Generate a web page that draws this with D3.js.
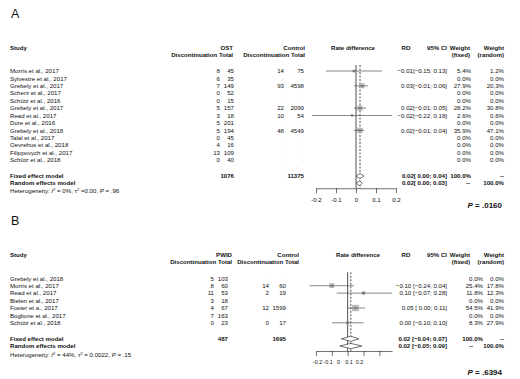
<!DOCTYPE html>
<html>
<head>
<meta charset="utf-8">
<script src="https://cdnjs.cloudflare.com/ajax/libs/d3/7.8.5/d3.min.js"></script>
<style>
body { margin: 0; background: #fff; }
svg { display: block; font-family: "Liberation Sans", Arial, sans-serif; }
</style>
</head>
<body>
<div id="chart"></div>
<script>
// ---- panel A : OST ----
var studiesA = ["Morris et al., 2017", "Sylvestre et al., 2017", "Grebely et al., 2017", "Scherz et al., 2017",
    "Schütz et al., 2016", "Grebely et al., 2017", "Read et al., 2017", "Dore et al., 2016",
    "Grebely et al., 2018", "Talal et al., 2017", "Oevrehus et al., 2018", "Filippovych et al., 2017", "Schütz et al., 2018"];
var eventsA = [8, 6, 7, 0, 0, 5, 3, 5, 5, 0, 4, 13, 0];
var totalA = [45, 35, 149, 52, 15, 157, 18, 201, 194, 45, 16, 109, 40];
var ctrlEventsA = [14, null, 93, null, null, 22, 10, null, 48, null, null, null, null];
var ctrlTotalA = [75, null, 4598, null, null, 2099, 54, null, 4549, null, null, null, null];
var rdA = [-0.01, null, 0.03, null, null, 0.02, -0.02, null, 0.02, null, null, null, null];
var lowA = [-0.15, null, -0.01, null, null, -0.01, -0.22, null, -0.01, null, null, null, null];
var highA = [0.13, null, 0.06, null, null, 0.05, 0.18, null, 0.04, null, null, null, null];
var wFixedA = [5.4, 0, 27.9, 0, 0, 28.2, 2.6, 0, 35.9, 0, 0, 0, 0];
var wRandomA = [1.2, 0, 20.3, 0, 0, 30.8, 0.6, 0, 47.1, 0, 0, 0, 0];
var pooledA = [0.02, 0.02];      // fixed, random
var pooledLowA = [0.00, 0.00];
var pooledHighA = [0.04, 0.03];
var sumTotalsA = [1076, 11375];
var hetA = ["0%", "=0.00", ".96"];
var pA = ".0160";

// ---- panel B : PWID ----
var studiesB = ["Grebely et al., 2018", "Morris et al., 2017", "Read et al., 2017", "Bielen et al., 2017",
    "Foster et a., 2017", "Boglione et al., 2017", "Schütz et al., 2018"];
var eventsB = [5, 8, 11, 3, 4, 7, 0];
var totalB = [103, 60, 53, 18, 67, 163, 23];
var ctrlEventsB = [null, 14, 2, null, 12, null, 0];
var ctrlTotalB = [null, 60, 19, null, 1599, null, 17];
var rdB = [null, -0.10, 0.10, null, 0.05, null, 0.00];
var lowB = [null, -0.24, -0.07, null, 0.00, null, -0.10];
var highB = [null, 0.04, 0.28, null, 0.11, null, 0.10];
var wFixedB = [0, 25.4, 11.8, 0, 54.5, 0, 8.3];
var wRandomB = [0, 17.8, 12.3, 0, 41.9, 0, 27.9];
var pooledB = [0.02, 0.02];
var pooledLowB = [-0.04, -0.05];
var pooledHighB = [0.07, 0.09];
var sumTotalsB = [487, 1695];
var hetB = ["44%", "= 0.0022", ".15"];
var pB = ".6394";

var tickValues = [-0.2, -0.1, 0, 0.1, 0.2];
var tickLabels = ["-0.2", "-0.1", "0", "0.1", "0.2"];

var W = 520, H = 379, fs = 6.1;
var f2 = d3.format(".2f");

var svg = d3.select("#chart").append("svg")
    .attr("width", W)
    .attr("height", H);

function txt(g, x, y, s, anchor, bold, size) {
    return g.append("text")
        .attr("x", x).attr("y", y)
        .attr("text-anchor", anchor || "start")
        .attr("font-size", size || fs)
        .attr("font-weight", bold ? "bold" : "normal")
        .attr("fill", "#111")
        .text(s);
}

function ciText(est, lo, hi, sep) {
    var l = lo < 0 ? f2(lo) : " " + f2(lo);
    return f2(est) + sep + "[" + l + "; " + f2(hi) + "]";
}

function drawPanel(p) {
    var g = svg.append("g");
    var n = p.studies.length;

    var y = d3.scaleLinear().domain([0, n - 1]).range([p.y0, p.y0 + (n - 1) * 7.42]);
    var x = d3.scaleLinear().domain(p.xDomain).range(p.xRange);
    var yFixed = y(n - 1) + 16, yRandom = yFixed + 7.2;

    txt(g, 11, p.letterY, p.letter, "start", false, 12.5);

    // headers
    var hy = p.y0 - 21;
    txt(g, 10, hy, "Study", "start", true);
    txt(g, p.hTot, hy, p.group, "end", true);
    txt(g, p.hTot, hy + 7, "Discontinuation Total", "end", true);
    txt(g, p.hcTot, hy, "Control", "end", true);
    txt(g, p.hcTot, hy + 7, "Discontinuation Total", "end", true);
    txt(g, p.rdHead, hy, "Rate difference", "middle", true);
    txt(g, 406, hy, "RD", "middle", true);
    txt(g, 447, hy, "95% CI", "end", true);
    txt(g, 470, hy, "Weight", "end", true);
    txt(g, 470, hy + 7, "(fixed)", "end", true);
    txt(g, 504, hy, "Weight", "end", true);
    txt(g, 504, hy + 7, "(random)", "end", true);

    // study rows
    p.studies.forEach(function(s, i) {
        var yy = y(i) + 2.2;
        txt(g, 10, yy, s);
        txt(g, p.cEv, yy, p.events[i], "end");
        txt(g, p.cTot, yy, p.total[i], "end");
        if (p.ctrlEv[i] === null) {
            txt(g, p.ccEv, yy - 1, ".", "end").attr("fill", "#aaa");
            txt(g, p.ccTot, yy - 1, ".", "end").attr("fill", "#aaa");
        } else {
            txt(g, p.ccEv, yy, p.ctrlEv[i], "end");
            txt(g, p.ccTot, yy, p.ctrlTot[i], "end");
        }
        if (p.rd[i] !== null) {
            txt(g, 447, yy, ciText(p.rd[i], p.low[i], p.high[i], p.sep), "end");
        }
        txt(g, p.wfCol, yy, p.wFixed[i].toFixed(1) + "%", "end");
        txt(g, 504, yy, p.wRandom[i].toFixed(1) + "%", "end");
    });

    // pooled rows
    txt(g, 10, yFixed + 2.2, "Fixed effect model", "start", true);
    txt(g, 10, yRandom + 2.2, "Random effects model", "start", true);
    txt(g, p.cTot, yFixed + 2.2, p.sums[0], "end", true);
    txt(g, p.ccTot, yFixed + 2.2, p.sums[1], "end", true);
    [yFixed, yRandom].forEach(function(yy, k) {
        txt(g, 447, yy + 2.2, ciText(p.pooled[k], p.pooledLow[k], p.pooledHigh[k], p.sep), "end", true);
    });
    txt(g, p.wfCol, yFixed + 2.2, "100.0%", "end", true);
    txt(g, 504, yFixed + 2.2, "--", "end", true);
    txt(g, p.dashCol, yRandom + 2.2, "--", "end", true);
    txt(g, 504, yRandom + 2.2, "100.0%", "end", true);

    var het = txt(g, 10, p.hetY, "Heterogeneity: ");
    het.append("tspan").attr("font-style", "italic").text("I");
    het.append("tspan").attr("dy", -2).attr("font-size", 4.2).text("2");
    het.append("tspan").attr("dy", 2).text(" = " + p.het[0] + ", τ");
    het.append("tspan").attr("dy", -2).attr("font-size", 4.2).text("2");
    het.append("tspan").attr("dy", 2).text(" " + p.het[1] + ", ");
    het.append("tspan").attr("font-style", "italic").text("P");
    het.append("tspan").text(" = " + p.het[2]);

    // reference lines
    var axisY = yRandom + 5;
    var topY = y(0) - 6;
    g.append("line")
        .attr("x1", x(0)).attr("x2", x(0))
        .attr("y1", topY).attr("y2", axisY)
        .attr("stroke", "#222").attr("stroke-width", 0.8);
    g.append("line")
        .attr("x1", x(p.pooled[0])).attr("x2", x(p.pooled[0]))
        .attr("y1", topY).attr("y2", axisY)
        .attr("stroke", "#222").attr("stroke-width", 0.8)
        .attr("stroke-dasharray", "2,1.5");

    // confidence intervals and squares
    p.rd.forEach(function(d, i) {
        if (d === null) return;
        var size = 0.7 * Math.sqrt(p.wFixed[i]) + 0.6;
        g.append("rect")
            .attr("x", x(d) - size / 2).attr("y", y(i) - size / 2)
            .attr("width", size).attr("height", size)
            .attr("fill", "#bdbdbd").attr("stroke", "#9a9a9a").attr("stroke-width", 0.4);
        g.append("line")
            .attr("x1", x(p.low[i])).attr("x2", x(p.high[i]))
            .attr("y1", y(i)).attr("y2", y(i))
            .attr("stroke", "#555").attr("stroke-width", 0.7);
        g.append("circle")
            .attr("cx", x(d)).attr("cy", y(i)).attr("r", 0.6)
            .attr("fill", "#222");
    });

    // diamonds
    [yFixed, yRandom].forEach(function(yy, k) {
        var pts = [[x(p.pooledLow[k]), yy], [x(p.pooled[k]), yy - 2.6],
                   [x(p.pooledHigh[k]), yy], [x(p.pooled[k]), yy + 2.6]];
        g.append("path")
            .attr("d", d3.line()(pts) + "Z")
            .attr("fill", "#fff").attr("stroke", "#333").attr("stroke-width", 0.7);
    });

    // x axis
    var axis = d3.axisBottom(x)
        .tickValues(tickValues)
        .tickSize(5)
        .tickSizeOuter(0)
        .tickFormat(function(d, i) { return tickLabels[i]; });
    var ax = g.append("g")
        .attr("transform", "translate(0," + axisY + ")")
        .call(axis);
    ax.select(".domain").attr("stroke", "#333").attr("stroke-width", 0.7);
    ax.selectAll(".tick line").attr("stroke", "#333").attr("stroke-width", 0.7);
    ax.selectAll(".tick text")
        .attr("font-size", p.tickFs)
        .attr("font-family", "Liberation Sans, Arial, sans-serif")
        .attr("fill", "#111")
        .attr("y", 9);
    if (p.labelRange) {
        var lx = d3.scaleLinear().domain([-0.2, 0.2]).range(p.labelRange);
        ax.selectAll(".tick text").attr("x", function(d) { return lx(d) - x(d); });
    }

    // p value
    var pt = txt(g, 502, p.pY, "", "end", true, 8);
    pt.append("tspan").attr("font-style", "italic").text("P");
    pt.append("tspan").text(" = " + p.p);
}

drawPanel({
    letter: "A", letterY: 18, group: "OST",
    studies: studiesA, events: eventsA, total: totalA, ctrlEv: ctrlEventsA, ctrlTot: ctrlTotalA,
    rd: rdA, low: lowA, high: highA, wFixed: wFixedA, wRandom: wRandomA,
    pooled: pooledA, pooledLow: pooledLowA, pooledHigh: pooledHighA, sums: sumTotalsA,
    het: hetA, p: pA, sep: "",
    y0: 71, hetY: 193, pY: 208,
    xDomain: [-0.2, 0.2], xRange: [316, 396], tickFs: 6.1,
    hTot: 233, hcTot: 305,
    cEv: 220, cTot: 234, ccEv: 284, ccTot: 304, rdHead: 353, wfCol: 471, dashCol: 470
});

drawPanel({
    letter: "B", letterY: 225, group: "PWID",
    studies: studiesB, events: eventsB, total: totalB, ctrlEv: ctrlEventsB, ctrlTot: ctrlTotalB,
    rd: rdB, low: lowB, high: highB, wFixed: wFixedB, wRandom: wRandomB,
    pooled: pooledB, pooledLow: pooledLowB, pooledHigh: pooledHighB, sums: sumTotalsB,
    het: hetB, p: pB, sep: " ",
    y0: 278.3, hetY: 357, pY: 375,
    xDomain: [-0.2, 0.28], xRange: [316, 392], labelRange: [317, 359], tickFs: 5.4,
    hTot: 232, hcTot: 299,
    cEv: 214, cTot: 228, ccEv: 269, ccTot: 286, rdHead: 358, wfCol: 483, dashCol: 473
});
</script>
</body>
</html>
